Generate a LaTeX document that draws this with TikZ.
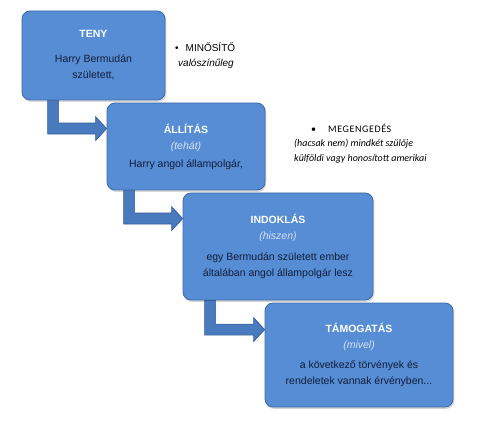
\documentclass[tikz,border=0pt]{standalone}
\usepackage{fontspec}
\setmainfont{Liberation Sans}
\newfontfamily\calib{Carlito}
\usetikzlibrary{calc}
\definecolor{boxfill}{RGB}{86,141,212}
\definecolor{boxline}{RGB}{62,106,168}
\definecolor{arrfill}{RGB}{74,122,190}
\definecolor{arrline}{RGB}{52,92,150}
\definecolor{txtdark}{RGB}{18,30,58}
\definecolor{txtit}{RGB}{214,226,244}
\tikzset{
  x=1pt,y=1pt,
  stagebox/.style={draw=boxline, line width=0.8pt, fill=boxfill, rounded corners=8pt,
    align=center, text=txtdark, inner sep=0pt,
    font={\fontsize{10.5}{16}\selectfont},
    preaction={draw=black!35, fill=black!35, opacity=0.35, transform canvas={shift={(1pt,-1.5pt)}}}},
  bentarrow/.style={draw=arrline, line width=0.7pt, fill=arrfill, line join=miter},
  sidetext/.style={align=left, anchor=north west, inner sep=0pt, text=black}
}
\newcommand{\ttl}[1]{{\bfseries\color{white}#1}}
\newcommand{\itl}[1]{{\itshape\color{txtit}#1}}
% bent arrow: #1 from node, #2 to node, #3 x offset of shaft from left of #1, #4 depth of centre below top of #2
\newcommand{\bendarrow}[4]{%
  \path[bentarrow] let \p1=(#1.south west), \p2=(#2.north west) in
    (\x1+#3, \y1) -- (\x1+#3+11, \y1) -- (\x1+#3+11, \y2-#4+5.5) -- (\x2-11, \y2-#4+5.5)
    -- (\x2-11, \y2-#4+12) -- (\x2, \y2-#4) -- (\x2-11, \y2-#4-12) -- (\x2-11, \y2-#4-5.5)
    -- (\x1+#3, \y2-#4-5.5) -- cycle;}
\begin{document}
\begin{tikzpicture}
\useasboundingbox (0,0) rectangle (500,-427);
\fill[white] (0,0) rectangle (500,-427);

\node[stagebox, minimum width=143, minimum height=89] (teny) at (93.5,-55.5)
  {\ttl{TENY}\\[9pt] Harry Bermudán\\ született,};
\node[stagebox, minimum width=158, minimum height=87] (allitas) at (186,-146.5)
  {\ttl{ÁLLÍTÁS}\\ \itl{(tehát)}\\[2pt] Harry angol állampolgár,};
\node[stagebox, minimum width=190, minimum height=107] (indoklas) at (278,-246.5)
  {\ttl{INDOKLÁS}\\ \itl{(hiszen)}\\[5pt] egy Bermudán született ember\\ általában angol állampolgár lesz};
\node[stagebox, minimum width=188, minimum height=104] (tamogatas) at (359,-355)
  {\ttl{TÁMOGATÁS}\\ \itl{(mivel)}\\[4pt] a következő törvények és\\ rendeletek vannak érvényben...};

\bendarrow{teny}{allitas}{26}{26}
\bendarrow{allitas}{indoklas}{17}{26}
\bendarrow{indoklas}{tamogatas}{22}{27}

\node[sidetext, font={\fontsize{10}{15}\selectfont}] (minosito) at (175,-43)
  {\textbullet\hspace{7pt}MINŐSÍTŐ\\ \hspace*{3pt}\textit{valószínűleg}};
\node[sidetext, font={\calib\fontsize{10}{14.5}\selectfont}] (megengedes) at (294,-123.5)
  {\hspace*{17pt}\textbullet\hspace{12pt}\addfontfeature{LetterSpace=6}MEGENGEDÉS\\ \textit{(hacsak nem) mindkét szülője}\\ \textit{külföldi vagy honosított amerikai}};
\end{tikzpicture}
\end{document}
